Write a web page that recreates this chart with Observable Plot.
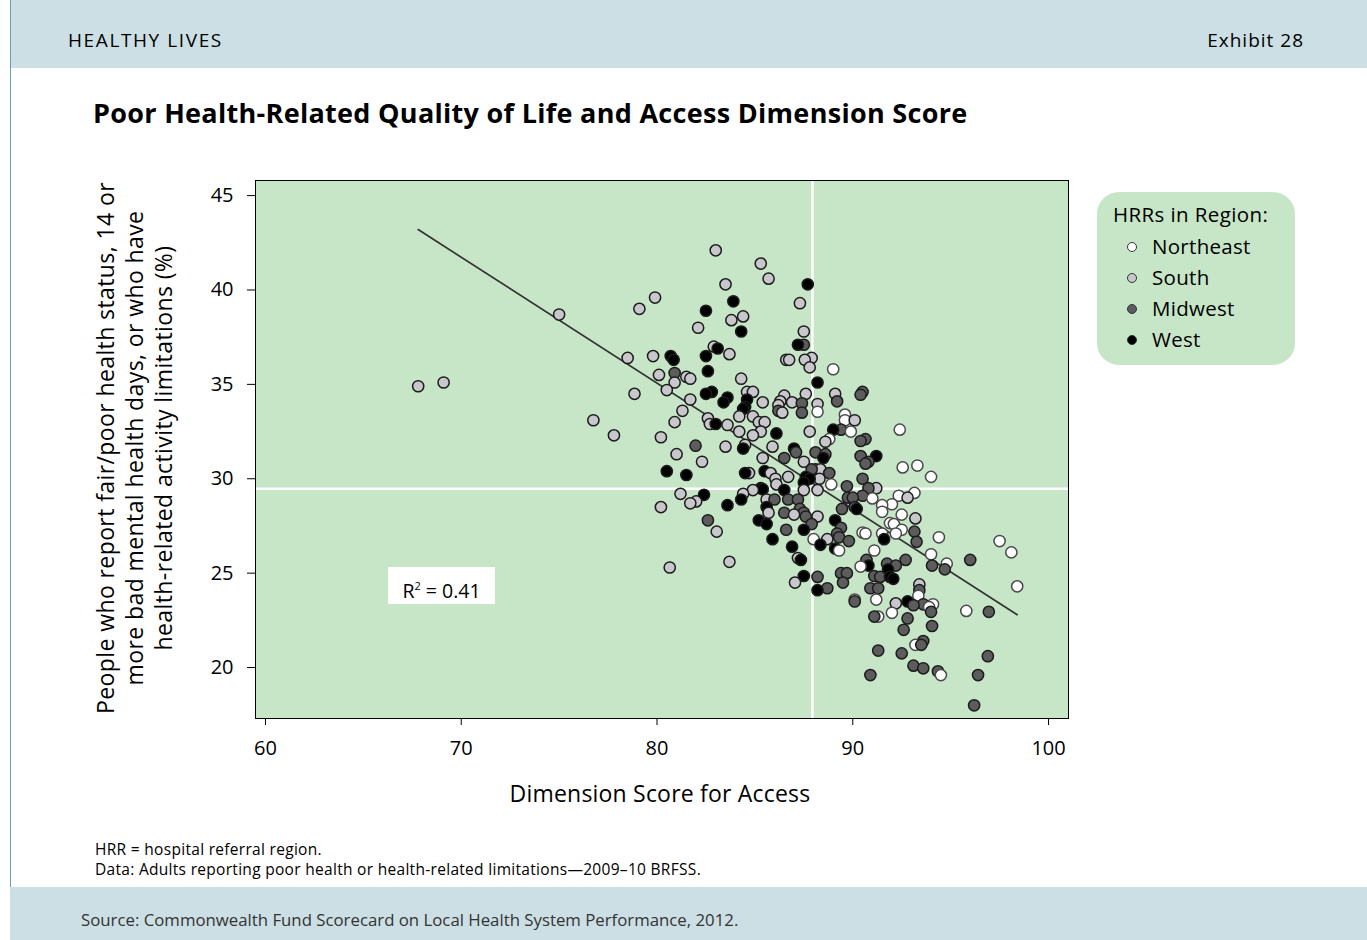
<!DOCTYPE html>
<html><head><meta charset="utf-8">
<script src="https://cdn.jsdelivr.net/npm/d3@7"></script>
<script src="https://cdn.jsdelivr.net/npm/@observablehq/plot@0.6"></script>
<style>
body{margin:0;background:#fff;font-family:"Open Sans",sans-serif;color:#000;}
#page{position:relative;width:1367px;height:940px;overflow:hidden;background:#fff;}
#topbar{position:absolute;left:10px;top:0;width:1357px;height:68px;background:#cbdfe4;}
#topbar .l{position:absolute;left:58px;top:27px;font-size:19px;letter-spacing:1.6px;}
#topbar .r{position:absolute;right:63px;top:27px;font-size:19px;letter-spacing:1.0px;}
#leftline{position:absolute;left:10px;top:0;width:1px;height:940px;background:#6f9fae;}
#title{position:absolute;left:93px;top:94px;font-size:27px;font-weight:bold;letter-spacing:0.3px;white-space:nowrap;}
#chart{position:absolute;left:0;top:140px;}
#ylab{position:absolute;left:-160px;top:419px;width:560px;text-align:center;font-size:23px;letter-spacing:0.4px;line-height:29px;transform:rotate(-90deg);transform-origin:280px 29px;white-space:nowrap;}
#xlab{position:absolute;left:410px;top:777px;width:500px;text-align:center;font-size:23px;letter-spacing:0.2px;}
#r2{position:absolute;left:388px;top:567px;width:107px;height:37px;background:#fff;font-size:19.5px;line-height:37px;text-align:center;}
#legend{position:absolute;left:1097px;top:192px;width:198px;height:173px;border-radius:22px;background:#c7e5c7;}
#legend .t{position:absolute;left:16px;top:8px;font-size:20.5px;letter-spacing:0.4px;}
#legend .it{position:absolute;left:55px;font-size:20.5px;letter-spacing:0.3px;}
#legend .dot{position:absolute;left:30px;width:8px;height:8px;border-radius:50%;border:1.3px solid #333;}
#notes{position:absolute;left:95px;top:840px;font-size:15.5px;letter-spacing:0.3px;line-height:19.5px;}
#footbar{position:absolute;left:10px;top:887px;width:1357px;height:53px;background:#cbdfe4;}
#footbar span{position:absolute;left:71px;top:21px;font-size:16.8px;letter-spacing:0;color:#333;}
</style></head><body>
<div id="page">
  <div id="topbar"><span class="l">HEALTHY LIVES</span><span class="r">Exhibit 28</span></div>
  <div id="leftline"></div>
  <div id="title">Poor Health-Related Quality of Life and Access Dimension Score</div>
  <div id="chart"></div>
  <div id="ylab">People who report fair/poor health status, 14 or<br>more bad mental health days, or who have<br>health-related activity limitations (%)</div>
  <div id="xlab">Dimension Score for Access</div>
  <div id="r2">R<sup style="font-size:11px;">2</sup> = 0.41</div>
  <div id="legend"></div>
  <div id="notes">HRR = hospital referral region.<br>Data: Adults reporting poor health or health-related limitations—2009–10 BRFSS.</div>
  <div id="footbar"><span>Source: Commonwealth Fund Scorecard on Local Health System Performance, 2012.</span></div>
</div>
<script>
// ---- data ----
const regions = ["Northeast", "South", "Midwest", "West"];
const regionFills = ["#ffffff", "#c8c8cc", "#5c5c5c", "#000000"];
const legendTitle = "HRRs in Region:";
const xTicks = [60, 70, 80, 90, 100];
const yTicks = [20, 25, 30, 35, 40, 45];
const accessMean = 87.94;
const healthMean = 29.47;
const fitX = [67.8, 98.4];
const fitY = [43.2, 22.8];

const northeast = [[89.0,35.8],[88.2,33.55],[89.6,33.4],[89.6,33.1],[89.9,32.5],[88.8,32.1],[88.9,29.7],[91.0,28.96],[91.5,28.6],[91.5,28.25],[92.0,28.65],[91.9,27.65],[92.1,27.6],[90.5,27.15],[90.65,27.1],[91.5,27.1],[88.0,26.8],[89.3,26.2],[91.1,26.2],[90.4,25.35],[90.1,23.6],[91.2,23.6],[92.35,29.1],[93.15,29.25],[92.5,28.1],[92.5,27.3],[92.2,27.1],[94.4,26.9],[97.5,26.7],[98.1,26.1],[94.0,26.0],[94.8,25.5],[98.4,24.3],[93.35,23.8],[91.3,22.7],[92.0,22.9],[94.1,23.35],[93.9,23.2],[95.8,23.0],[93.2,21.2],[94.5,19.6],[92.4,32.6],[92.55,30.6],[93.3,30.7],[94.0,30.1]];
const south = [[67.8,34.9],[69.1,35.1],[75.0,38.7],[76.75,33.1],[77.8,32.3],[78.5,36.4],[78.85,34.5],[79.1,39.0],[79.9,39.6],[79.8,36.5],[80.1,35.5],[80.2,32.2],[80.2,28.5],[80.65,25.3],[83.0,42.1],[85.3,41.4],[83.5,40.3],[84.4,38.6],[83.8,38.4],[82.1,38.0],[82.9,37.0],[83.7,36.6],[85.7,40.6],[87.3,39.3],[87.5,37.8],[87.9,36.4],[86.6,36.3],[86.75,36.3],[87.55,36.3],[87.8,35.9],[80.9,35.1],[81.5,35.4],[81.7,35.3],[84.3,35.3],[80.5,34.7],[84.6,34.6],[84.9,34.6],[81.7,34.2],[81.3,33.6],[80.9,33.0],[82.6,33.2],[82.7,32.9],[83.6,32.85],[84.2,33.3],[84.9,33.3],[84.2,32.5],[84.9,32.3],[83.5,31.7],[84.5,31.8],[81.0,31.3],[82.3,30.9],[84.7,30.3],[81.2,29.2],[81.7,28.7],[82.0,28.8],[84.4,29.2],[84.9,29.4],[83.05,27.2],[83.7,25.6],[85.4,34.05],[86.5,34.4],[86.3,34.1],[86.2,33.9],[86.9,34.05],[87.6,34.5],[88.2,33.96],[89.1,34.5],[86.4,33.5],[90.1,33.1],[85.2,33.0],[85.5,33.0],[85.3,32.5],[87.8,32.5],[88.6,31.96],[85.9,31.7],[85.4,31.1],[87.5,30.9],[88.1,30.5],[88.35,30.5],[85.8,30.3],[86.7,30.1],[86.05,30.0],[86.1,29.7],[88.3,30.0],[91.2,29.5],[87.5,29.4],[88.2,29.4],[85.6,28.9],[85.7,28.2],[87.0,28.1],[88.2,28.0],[88.7,26.8],[87.2,25.8],[87.05,24.5],[92.8,29.0],[93.2,27.9],[93.4,24.4],[92.2,23.4]];
const midwest = [[87.5,37.1],[80.9,35.6],[81.97,31.75],[82.6,27.8],[87.4,34.0],[89.2,34.1],[90.5,34.6],[90.4,34.45],[86.2,33.6],[87.4,33.5],[89.4,32.6],[90.4,32.0],[90.65,32.1],[87.1,31.4],[88.1,31.4],[88.6,31.3],[86.5,31.1],[90.4,31.2],[90.65,30.8],[90.8,30.9],[87.9,30.5],[88.8,30.3],[90.5,30.0],[89.7,29.6],[90.8,29.5],[86.0,28.9],[86.7,28.9],[87.2,28.9],[89.75,29.0],[90.0,29.0],[90.5,29.1],[87.3,28.4],[90.1,28.5],[86.5,28.2],[87.5,28.2],[87.6,28.0],[89.45,28.4],[87.9,27.6],[86.6,27.3],[89.4,27.4],[89.2,27.1],[89.3,26.9],[89.8,26.7],[90.7,25.7],[91.75,25.5],[88.2,24.8],[89.4,25.0],[89.7,25.0],[89.5,24.5],[88.7,24.2],[90.9,24.2],[91.1,24.85],[91.4,24.8],[91.3,24.2],[93.15,27.2],[93.26,26.66],[92.7,25.7],[92.2,25.4],[94.05,25.4],[94.7,25.2],[96.0,25.7],[93.4,24.1],[90.1,23.5],[91.1,22.7],[91.3,20.9],[90.9,19.6],[93.1,23.3],[93.6,23.35],[94.0,22.95],[96.95,22.95],[92.8,22.6],[92.6,22.0],[94.05,22.2],[93.5,21.2],[93.6,21.4],[92.5,20.75],[93.1,20.1],[93.6,19.96],[94.35,19.8],[96.9,20.6],[96.4,19.6],[96.2,18.0]];
const west = [[83.9,39.4],[82.5,38.9],[84.3,37.8],[83.1,36.9],[82.5,36.5],[80.7,36.5],[80.85,36.3],[87.7,40.3],[87.2,37.1],[82.6,35.7],[82.5,34.5],[82.8,34.6],[83.6,34.3],[83.4,34.05],[84.6,34.2],[84.5,33.8],[84.4,33.7],[83.0,32.9],[84.4,31.6],[80.5,30.4],[81.5,30.2],[84.5,30.3],[82.4,29.15],[83.6,28.6],[84.3,28.9],[85.2,27.8],[88.2,35.1],[86.1,32.4],[89.0,32.6],[87.0,31.6],[88.5,31.1],[91.2,31.2],[85.5,30.4],[87.6,30.1],[87.8,30.0],[85.3,29.5],[85.4,29.45],[87.5,29.8],[86.5,29.4],[85.6,28.5],[90.2,28.4],[85.6,27.6],[89.1,27.8],[87.5,27.3],[91.6,26.8],[85.9,26.8],[88.35,26.5],[89.1,26.3],[86.9,26.4],[87.35,25.7],[90.8,25.4],[91.8,25.2],[87.5,24.85],[88.2,24.1],[91.9,24.8],[92.07,24.7],[92.8,23.5]];

// ---- build ----
const groups = [northeast, south, midwest, west];
const points = [];
groups.forEach((g, i) => g.forEach(([x, y]) => points.push({x, y, region: regions[i]})));
points.sort((a, b) => (b.y - a.y));
const fit = fitX.map((x, i) => ({x, y: fitY[i]}));

const chart = Plot.plot({
  width: 1090, height: 680,
  marginLeft: 255, marginRight: 22, marginTop: 40, marginBottom: 102,
  style: {fontFamily: "Open Sans, sans-serif", fontSize: "20px", color: "#000", background: "transparent"},
  x: {domain: [59.49, 101.02], ticks: xTicks, tickSize: 7, tickPadding: 15, label: null},
  y: {domain: [17.3, 45.8], ticks: yTicks, tickSize: 8, tickPadding: 14, label: null},
  color: {domain: regions, range: regionFills},
  marks: [
    Plot.frame({fill: "#c7e5c7"}),
    Plot.ruleX([accessMean], {stroke: "#fff", strokeWidth: 2.5}),
    Plot.ruleY([healthMean], {stroke: "#fff", strokeWidth: 2.5}),
    Plot.line(fit, {x: "x", y: "y", stroke: "#333", strokeWidth: 1.7}),
    Plot.dot(points, {x: "x", y: "y", r: 5.6, fill: "region", stroke: d => d.region === "Northeast" ? "#4a4a4a" : "#1c1c1c", strokeWidth: 1.5}),
    Plot.frame({stroke: "#000", strokeWidth: 1})
  ]
});
document.getElementById("chart").appendChild(chart);

// legend (HTML)
const lg = document.getElementById("legend");
const t = document.createElement("div"); t.className = "t"; t.textContent = legendTitle; lg.appendChild(t);
regions.forEach((r, i) => {
  const top = 40 + i * 31;
  const d = document.createElement("div"); d.className = "dot";
  d.style.top = (top + 10) + "px"; d.style.background = regionFills[i];
  lg.appendChild(d);
  const s = document.createElement("div"); s.className = "it"; s.style.top = top + "px"; s.textContent = r;
  lg.appendChild(s);
});
</script>
</body></html>
